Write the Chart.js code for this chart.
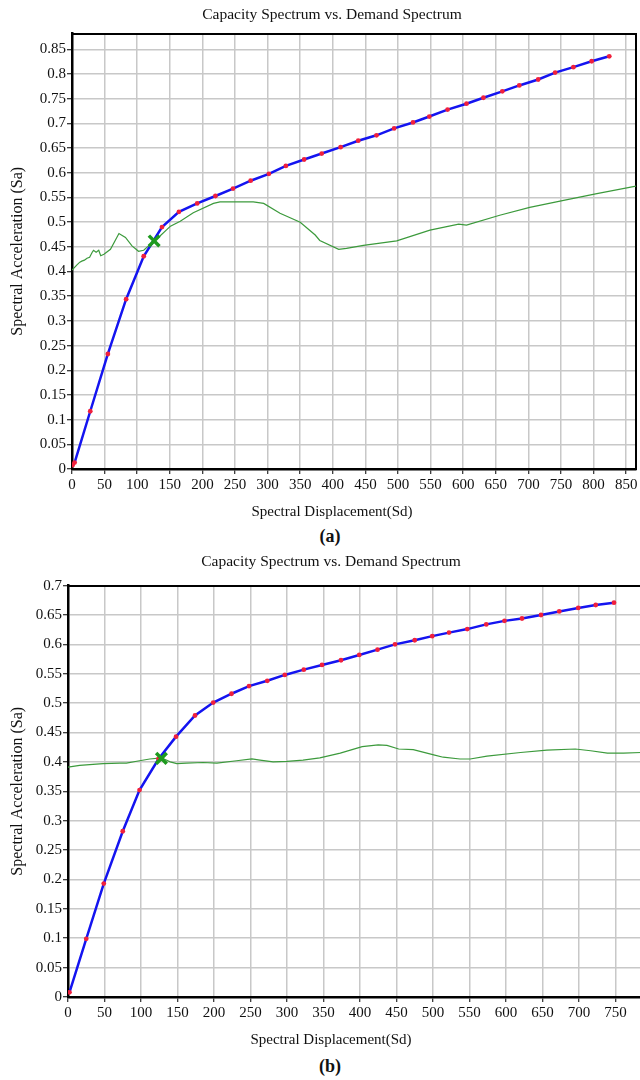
<!DOCTYPE html>
<html>
<head>
<meta charset="utf-8">
<script src="https://cdn.jsdelivr.net/npm/chart.js@4.4.1/dist/chart.umd.min.js"></script>
<style>
  html, body { margin: 0; padding: 0; background: #fff; width: 640px; height: 1080px; overflow: hidden; }
  .panel { position: absolute; left: 0; }
  .tag { position: absolute; left: 300px; width: 60px; text-align: center; color: #111;
         font: bold 18px "Liberation Serif", "Times New Roman", serif; }
</style>
</head>
<body>
<canvas id="chartA" class="panel" width="664" height="525" style="top:0"></canvas>
<div class="tag" style="top:526px">(a)</div>
<canvas id="chartB" class="panel" width="662" height="503" style="top:550px"></canvas>
<div class="tag" style="top:1056px">(b)</div>

<script>
// ---- panel (a) ----
const xTicksA = [0, 50, 100, 150, 200, 250, 300, 350, 400, 450, 500, 550, 600, 650, 700, 750, 800, 850];
const yTicksA = [0, 0.05, 0.1, 0.15, 0.2, 0.25, 0.3, 0.35, 0.4, 0.45, 0.5, 0.55, 0.6, 0.65, 0.7, 0.75, 0.8, 0.85];

// capacity spectrum [Sd, Sa]
const capacityA = [
    [1, 0.008], [4, 0.013], [28, 0.117], [55, 0.233], [83, 0.344], [110, 0.431], [138, 0.49],
    [164, 0.521], [192, 0.538], [220, 0.553], [247, 0.568], [274, 0.584], [302, 0.598], [328, 0.614],
    [356, 0.627], [383, 0.639], [412, 0.652], [439, 0.665], [467, 0.676], [494, 0.69], [523, 0.702],
    [548, 0.714], [576, 0.728], [605, 0.74], [631, 0.752], [660, 0.765], [686, 0.777], [715, 0.789],
    [741, 0.803], [769, 0.814], [797, 0.826], [824, 0.836]
];

// demand spectrum [Sd, Sa]
const demandA = [
    [0, 0.403], [8, 0.414], [12, 0.419], [15, 0.421], [19, 0.423], [23, 0.427], [27, 0.429],
    [31, 0.439], [33, 0.443], [37, 0.439], [41, 0.443], [44, 0.432], [49, 0.435], [59, 0.445],
    [72, 0.477], [82, 0.469], [92, 0.452], [102, 0.441], [110, 0.443], [120, 0.455], [135, 0.472],
    [151, 0.492], [166, 0.502], [186, 0.519], [217, 0.538], [227, 0.541], [278, 0.541], [294, 0.538],
    [319, 0.518], [350, 0.5], [373, 0.474], [380, 0.463], [409, 0.445], [421, 0.447], [447, 0.453],
    [498, 0.462], [549, 0.484], [593, 0.496], [605, 0.494], [656, 0.514], [702, 0.53], [754, 0.544],
    [805, 0.558], [865, 0.573]
];

const perfPointA = [[126, 0.462]];

// ---- panel (b) ----
const xTicksB = [0, 50, 100, 150, 200, 250, 300, 350, 400, 450, 500, 550, 600, 650, 700, 750];
const yTicksB = [0, 0.05, 0.1, 0.15, 0.2, 0.25, 0.3, 0.35, 0.4, 0.45, 0.5, 0.55, 0.6, 0.65, 0.7];

const capacityB = [
    [2, 0.008], [25, 0.099], [49, 0.193], [75, 0.282], [98, 0.352], [124, 0.405], [148, 0.443],
    [174, 0.479], [199, 0.501], [224, 0.516], [248, 0.529], [273, 0.538], [297, 0.548], [323, 0.557],
    [348, 0.565], [374, 0.573], [399, 0.582], [424, 0.591], [448, 0.6], [475, 0.607], [499, 0.614],
    [522, 0.62], [547, 0.626], [573, 0.634], [598, 0.64], [622, 0.644], [648, 0.65], [673, 0.656],
    [699, 0.662], [723, 0.667], [748, 0.671]
];

const demandB = [
    [0, 0.391], [16, 0.394], [48, 0.397], [71, 0.398], [80, 0.398], [98, 0.402], [112, 0.405],
    [128, 0.407], [140, 0.4], [149, 0.397], [162, 0.398], [185, 0.399], [204, 0.398], [231, 0.402],
    [252, 0.405], [263, 0.403], [281, 0.4], [300, 0.401], [322, 0.403], [345, 0.407], [373, 0.415],
    [403, 0.426], [425, 0.429], [437, 0.428], [453, 0.422], [473, 0.421], [501, 0.412], [514, 0.408],
    [537, 0.405], [551, 0.405], [574, 0.41], [620, 0.416], [656, 0.42], [695, 0.422], [716, 0.419],
    [739, 0.415], [761, 0.415], [785, 0.416]
];

const perfPointB = [[128, 0.406]];

const SERIF = '"Liberation Serif", "Times New Roman", serif';

function toPoints(arr) {
    return arr.map(p => ({x: p[0], y: p[1]}));
}

function makeChart(id, cfg) {
    const gridStyle = {color: '#c8c8c8', lineWidth: 1.5, tickColor: '#000', tickLength: 5, tickWidth: 1};
    return new Chart(document.getElementById(id).getContext('2d'), {
        type: 'scatter',
        data: {
            datasets: [{
                data: toPoints(cfg.point),
                pointStyle: 'crossRot',
                pointRadius: 7.5,
                pointBorderWidth: 3.5,
                borderColor: '#1e9a1e',
                backgroundColor: '#1e9a1e',
                showLine: false
            }, {
                data: toPoints(cfg.capacity),
                showLine: true,
                borderColor: '#1414f0',
                borderWidth: 2.5,
                pointRadius: 2.4,
                pointBorderWidth: 0,
                pointBackgroundColor: '#f0203c'
            }, {
                data: toPoints(cfg.demand),
                showLine: true,
                borderColor: '#3c9a3c',
                borderWidth: 1.2,
                pointRadius: 0
            }]
        },
        options: {
            responsive: false,
            animation: false,
            layout: {padding: 0},
            plugins: {
                legend: {display: false},
                tooltip: {enabled: false},
                title: {
                    display: true,
                    text: 'Capacity Spectrum vs. Demand Spectrum',
                    color: '#111',
                    font: {family: SERIF, size: 15.5, weight: 'normal'},
                    padding: {top: cfg.titleTop, bottom: cfg.titleBottom}
                },
                subtitle: {
                    display: true,
                    position: 'bottom',
                    text: 'Spectral Displacement(Sd)',
                    color: '#111',
                    font: {family: SERIF, size: 15, weight: 'normal'},
                    padding: {top: 6, bottom: 4}
                }
            },
            scales: {
                x: {
                    type: 'linear',
                    min: 0,
                    max: cfg.xMax,
                    afterBuildTicks: s => { s.ticks = cfg.xTicks.map(v => ({value: v})); },
                    afterFit: s => { s.height = 28; },
                    grid: gridStyle,
                    border: {color: '#000', width: 2.5},
                    ticks: {color: '#111', padding: 2, maxRotation: 0, autoSkip: false,
                            font: {family: SERIF, size: 15}}
                },
                y: {
                    type: 'linear',
                    min: 0,
                    max: cfg.yMax,
                    afterBuildTicks: s => { s.ticks = cfg.yTicks.map(v => ({value: v})); },
                    afterFit: s => { s.width = cfg.left; },
                    grid: gridStyle,
                    border: {color: '#000', width: 2.5},
                    ticks: {color: '#111', padding: 1, autoSkip: false,
                            font: {family: SERIF, size: 15},
                            callback: v => String(Number(v.toFixed(2)))},
                    title: {
                        display: true,
                        text: 'Spectral Acceleration (Sa)',
                        color: '#111',
                        font: {family: SERIF, size: 16, weight: 'normal'},
                        padding: {top: 8, bottom: 0}
                    }
                },
                // frame on top and right
                x2: {
                    type: 'linear',
                    position: 'top',
                    afterFit: s => { s.height = 0; },
                    grid: {display: false},
                    ticks: {display: false},
                    border: {color: '#000', width: 2}
                },
                y2: {
                    type: 'linear',
                    position: 'right',
                    afterFit: s => { s.width = cfg.right; },
                    grid: {display: false},
                    ticks: {display: false},
                    border: {color: '#000', width: 2}
                }
            }
        }
    });
}

makeChart('chartA', {
    capacity: capacityA, demand: demandA, point: perfPointA,
    xTicks: xTicksA, yTicks: yTicksA, xMax: 865, yMax: 0.882,
    left: 72, right: 28, titleTop: 6, titleBottom: 9
});

makeChart('chartB', {
    capacity: capacityB, demand: demandB, point: perfPointB,
    xTicks: xTicksB, yTicks: yTicksB, xMax: 785, yMax: 0.7,
    left: 68, right: 21, titleTop: 3, titleBottom: 14
});
</script>
</body>
</html>
